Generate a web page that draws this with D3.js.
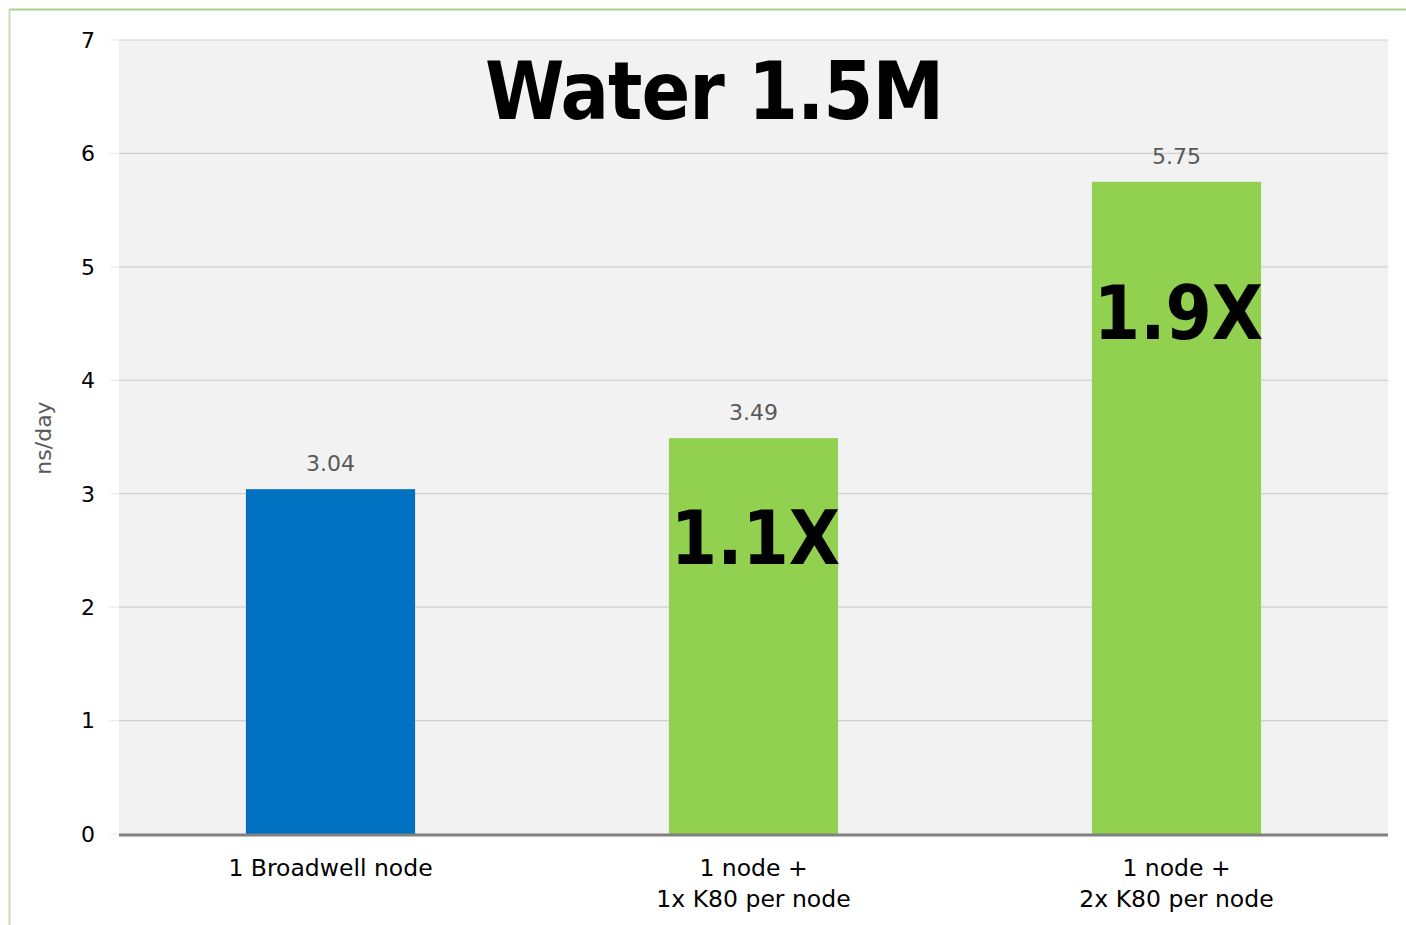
<!DOCTYPE html>
<html><head><meta charset="utf-8">
<script src="https://cdn.jsdelivr.net/npm/d3@7"></script>
<style>html,body{margin:0;padding:0;background:#fff;}svg{display:block;}</style>
</head><body>
<svg id="chart" width="1406" height="925"></svg>
<script>
const categories = [["1 Broadwell node"], ["1 node +", "1x K80 per node"], ["1 node +", "2x K80 per node"]];
const values = [3.04, 3.49, 5.75];
const speedups = ["", "1.1X", "1.9X"];
const yTicks = [0, 1, 2, 3, 4, 5, 6, 7];
const title = "Water 1.5M";
const yLabel = "ns/day";
const colors = ["#0070c0", "#92d050", "#92d050"];

const svg = d3.select("#chart");
const W = 1406, H = 925;
const m = {left: 119, right: 1388, top: 40, bottom: 834};

// frame lines
svg.append("line").attr("x1", 9).attr("x2", W).attr("y1", 9.5).attr("y2", 9.5).attr("stroke", "#a9d18e").attr("stroke-width", 2);
svg.append("line").attr("x1", 9.5).attr("x2", 9.5).attr("y1", 9).attr("y2", H).attr("stroke", "#c5e0b3").attr("stroke-width", 2);

const x = d3.scaleBand().domain(d3.range(values.length)).range([m.left, m.right]).paddingInner(0.6).paddingOuter(0.3);
const y = d3.scaleLinear().domain([0, 7]).range([m.bottom, m.top]);

svg.append("rect").attr("x", m.left).attr("y", m.top).attr("width", m.right - m.left).attr("height", m.bottom - m.top).attr("fill", "#f2f2f2");

// gridlines
svg.append("g").selectAll("line").data(yTicks.filter(d => d > 0)).join("line")
  .attr("x1", m.left).attr("x2", m.right).attr("y1", d => y(d)).attr("y2", d => y(d))
  .attr("stroke", "#d0d0d0").attr("stroke-width", 1.2);
// small left ticks
svg.append("g").selectAll("line").data(yTicks).join("line")
  .attr("x1", m.left - 9).attr("x2", m.left).attr("y1", d => y(d)).attr("y2", d => y(d))
  .attr("stroke", "#ececec").attr("stroke-width", 1.2);

// y tick labels
svg.append("g").selectAll("text").data(yTicks).join("text")
  .attr("x", 95).attr("y", d => y(d)).attr("dy", "0.36em").attr("text-anchor", "end")
  .attr("font-family", "DejaVu Sans").attr("font-size", 22).attr("fill", "#000").text(d => d);

// y axis title
svg.append("text").attr("transform", `translate(51,438) rotate(-90)`).attr("text-anchor", "middle")
  .attr("font-family", "DejaVu Sans").attr("font-size", 22).attr("fill", "#595959").text(yLabel);

// bars
svg.append("g").selectAll("rect").data(values).join("rect")
  .attr("x", (d, i) => x(i)).attr("width", x.bandwidth())
  .attr("y", d => y(d)).attr("height", d => y(0) - y(d)).attr("fill", (d, i) => colors[i]);

// baseline
svg.append("line").attr("x1", m.left).attr("x2", m.right).attr("y1", y(0) + 1).attr("y2", y(0) + 1)
  .attr("stroke", "#808080").attr("stroke-width", 3);

// value labels
svg.append("g").selectAll("text").data(values).join("text")
  .attr("x", (d, i) => x(i) + x.bandwidth() / 2).attr("y", d => y(d) - 18).attr("text-anchor", "middle")
  .attr("font-family", "DejaVu Sans").attr("font-size", 22).attr("fill", "#595959").text(d => d.toFixed(2));

// category labels
const cat = svg.append("g").selectAll("text").data(categories).join("text")
  .attr("x", (d, i) => x(i) + x.bandwidth() / 2).attr("y", 876).attr("text-anchor", "middle")
  .attr("font-family", "DejaVu Sans").attr("font-size", 23.5).attr("fill", "#000");
cat.selectAll("tspan").data(d => d).join("tspan")
  .attr("x", function() { return d3.select(this.parentNode).attr("x"); })
  .attr("dy", (d, i) => i === 0 ? 0 : 31).text(d => d);

// speedup labels
const speedBase = [0, 564, 339];
svg.append("g").selectAll("text").data(speedups).join("text")
  .attr("x", (d, i) => x(i) + x.bandwidth() / 2 + 2).attr("y", (d, i) => speedBase[i])
  .attr("text-anchor", "middle").attr("font-family", "DejaVu Sans Condensed, DejaVu Sans").attr("font-weight", "bold")
  .attr("font-size", 74).attr("fill", "#000").text(d => d);

// title
svg.append("text").attr("x", 714).attr("y", 119).attr("text-anchor", "middle")
  .attr("font-family", "DejaVu Sans Condensed, DejaVu Sans").attr("font-weight", "bold")
  .attr("font-size", 80).attr("letter-spacing", -1).attr("fill", "#000").text(title);
</script>
</body></html>
